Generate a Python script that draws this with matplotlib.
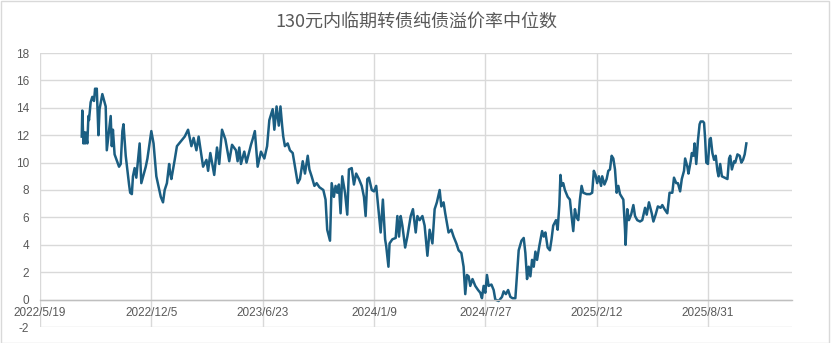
import numpy as np
import pandas as pd
import matplotlib
matplotlib.use('Agg')
import matplotlib.pyplot as plt
from matplotlib.patches import Rectangle

plt.rcParams['font.family'] = ['Liberation Sans', 'Noto Sans CJK SC', 'DejaVu Sans']
plt.rcParams['axes.unicode_minus'] = False

title = '130元内临期转债纯债溢价率中位数'
start = pd.Timestamp('2022-05-19')

# days after 2022/5/19
days = [
    75, 76, 78, 79, 81, 82, 85, 87, 88, 91, 94, 97, 99, 100, 102, 105, 107, 112, 118, 120,
    127, 129, 131, 134, 142, 145, 148, 150, 154, 160, 162, 165, 167, 170, 173, 179, 182, 190, 193, 200,
    204, 209, 217, 221, 224, 228, 232, 234, 236, 242, 246, 254, 260, 266, 272, 276, 281, 285, 293, 299,
    302, 306, 313, 318, 322, 327, 333, 340, 345, 352, 355, 358, 361, 367, 371, 379, 382, 386, 391, 397,
    403, 408, 412, 418, 421, 425, 429, 432, 435, 437, 440, 445, 449, 454, 459, 463, 467, 472, 476, 481,
    484, 488, 493, 497, 502, 509, 513, 516, 521, 524, 528, 531, 534, 537, 540, 543, 548, 552, 555, 560,
    564, 568, 573, 578, 582, 585, 588, 591, 596, 600, 604, 608, 612, 616, 620, 622, 626, 628, 633, 639,
    642, 645, 648, 651, 656, 660, 666, 670, 675, 678, 682, 687, 691, 696, 700, 705, 709, 713, 718, 721,
    725, 728, 734, 739, 743, 748, 752, 757, 761, 764, 767, 770, 773, 777, 782, 787, 791, 794, 797, 800,
    803, 806, 811, 815, 818, 824, 830, 833, 837, 841, 845, 849, 854, 857, 860, 865, 869, 872, 875, 878,
    881, 884, 887, 890, 893, 897, 902, 905, 908, 912, 916, 919, 922, 927, 930, 933, 935, 937, 940, 943,
    948, 952, 955, 958, 961, 964, 967, 970, 973, 976, 982, 988, 992, 995, 998, 1001, 1004, 1008, 1010, 1014,
    1018, 1021, 1024, 1027, 1030, 1033, 1036, 1039, 1042, 1045, 1048, 1051, 1052, 1055, 1058, 1062, 1066, 1069, 1073, 1078,
    1082, 1087, 1090, 1094, 1099, 1102, 1106, 1110, 1115, 1118, 1122, 1127, 1131, 1136, 1139, 1143, 1146, 1150, 1153, 1157,
    1159, 1163, 1165, 1169, 1171, 1174, 1176, 1179, 1182, 1185, 1187, 1191, 1193, 1195, 1197, 1200, 1203, 1205, 1208, 1211,
    1214, 1217, 1219, 1222, 1225, 1230, 1235, 1238, 1240, 1243, 1247, 1249, 1253, 1257, 1260, 1263, 1266, 1269,
]

values = [
    11.9, 13.8, 11.4, 12.2, 11.4, 12.2, 11.4, 13.4, 13.1, 14.4, 14.8, 14.5, 15.4, 15.1, 15.4, 12.0, 13.9, 15.0, 14.1, 10.9,
    13.4, 11.2, 12.4, 10.6, 9.7, 9.9, 12.3, 12.8, 10.5, 8.4, 7.8, 7.7, 9.0, 9.6, 8.9, 11.4, 8.5, 9.7, 10.3, 12.3,
    11.4, 9.0, 7.5, 7.1, 8.0, 8.5, 9.9, 9.2, 8.8, 10.2, 11.2, 11.6, 11.9, 12.4, 11.2, 11.8, 10.9, 11.9, 9.7, 10.2,
    9.4, 10.7, 9.1, 11.1, 9.9, 12.4, 11.7, 10.1, 11.3, 10.9, 10.1, 11.1, 9.9, 10.8, 10.0, 11.3, 11.7, 12.3, 9.7, 10.8,
    10.3, 11.2, 13.1, 13.9, 12.4, 14.1, 12.7, 14.1, 12.7, 11.9, 11.2, 11.4, 10.9, 10.7, 9.5, 8.5, 8.8, 10.1, 9.2, 10.5,
    9.5, 9.0, 8.3, 8.5, 8.2, 8.0, 7.3, 5.1, 4.3, 8.5, 7.5, 8.3, 7.8, 8.4, 6.3, 9.0, 7.8, 6.2, 9.5, 9.6,
    8.4, 9.2, 8.8, 8.3, 7.5, 6.1, 8.8, 8.9, 8.0, 7.9, 8.3, 6.6, 4.9, 7.3, 4.4, 3.9, 2.4, 4.1, 4.4, 4.5,
    6.1, 4.6, 6.1, 5.4, 3.8, 4.6, 6.1, 6.6, 4.9, 6.1, 5.8, 6.1, 5.4, 3.2, 5.1, 4.1, 6.6, 7.1, 8.0, 6.8,
    7.1, 6.3, 4.9, 5.1, 4.6, 4.1, 3.6, 3.4, 2.4, 0.4, 1.8, 1.7, 1.0, 1.5, 1.0, 0.7, 0.5, 0.1, 1.0, 0.5,
    1.8, 1.0, 1.1, 0.7, 0.0, -0.1, 0.2, 0.6, 0.4, 0.7, 0.2, 0.1, 0.1, 1.9, 3.6, 4.3, 4.5, 3.4, 1.5, 2.4,
    1.7, 2.9, 2.4, 3.5, 2.9, 3.9, 5.0, 4.6, 4.9, 3.8, 3.6, 4.4, 5.4, 5.8, 5.1, 6.9, 9.1, 8.3, 8.5, 8.0,
    7.5, 7.3, 6.1, 5.0, 6.6, 6.0, 5.8, 7.3, 8.3, 7.8, 7.7, 7.7, 7.8, 9.4, 9.1, 8.5, 9.0, 8.3, 9.0, 8.4,
    8.8, 9.4, 9.5, 10.5, 10.3, 9.5, 7.8, 8.3, 7.7, 7.5, 7.3, 5.1, 4.0, 6.6, 5.8, 6.2, 6.9, 6.1, 5.8, 5.7,
    5.8, 6.7, 6.2, 7.1, 6.3, 5.7, 6.2, 6.8, 6.7, 6.9, 6.6, 6.3, 7.8, 7.8, 8.9, 8.5, 8.5, 7.9, 8.8, 9.4,
    10.3, 9.7, 9.2, 10.1, 10.7, 10.5, 11.4, 9.9, 11.6, 12.8, 13.0, 13.0, 12.9, 11.7, 10.0, 9.9, 11.7, 11.8, 10.7, 10.2,
    10.5, 9.4, 9.0, 9.9, 9.0, 8.9, 8.8, 10.3, 10.5, 9.5, 10.1, 10.0, 10.6, 10.5, 10.0, 10.2, 10.6, 11.4,
]

dates = start + pd.to_timedelta(days, unit='D')
tick_dates = pd.date_range(start, periods=7, freq='200D')

line_color = '#1B5E82'
grid_color = '#D9D9D9'
text_color = '#595959'

fig = plt.figure(figsize=(8.32, 3.43), dpi=100)
ax = fig.add_axes([40 / 832, 1 - 327 / 343, 752 / 832, 274 / 343])

ax.plot(dates, values, color=line_color, linewidth=1.8, solid_joinstyle='round')

ax.set_ylim(-2, 18)
ax.set_yticks(np.arange(-2, 19, 2))
ax.set_xlim(start, start + pd.Timedelta(days=1351))
ax.set_xticks(tick_dates)
ax.set_xticklabels([f'{d.year}/{d.month}/{d.day}' for d in tick_dates])

ax.grid(True, color=grid_color, linewidth=1.0)
ax.set_axisbelow(True)
for s in ['top', 'right', 'left']:
    ax.spines[s].set_visible(False)
ax.spines['bottom'].set_position(('data', 0))
ax.spines['bottom'].set_color('#BFBFBF')
ax.spines['bottom'].set_linewidth(1.0)

ax.tick_params(axis='both', length=0, colors=text_color, labelsize=8.5)
ax.tick_params(axis='x', pad=5)
ax.tick_params(axis='y', pad=8)

fig.text(416 / 832, 1 - 22 / 343, title, ha='center', va='center', fontsize=13,
         color=text_color, family=['Noto Sans CJK SC', 'DejaVu Sans'])

fig.patches.append(Rectangle((0.5 / 832, 0.5 / 343), 828 / 832, 341.5 / 343,
                             transform=fig.transFigure, fill=False,
                             edgecolor=grid_color, linewidth=1.0))

fig.savefig('out.png', dpi=100)
